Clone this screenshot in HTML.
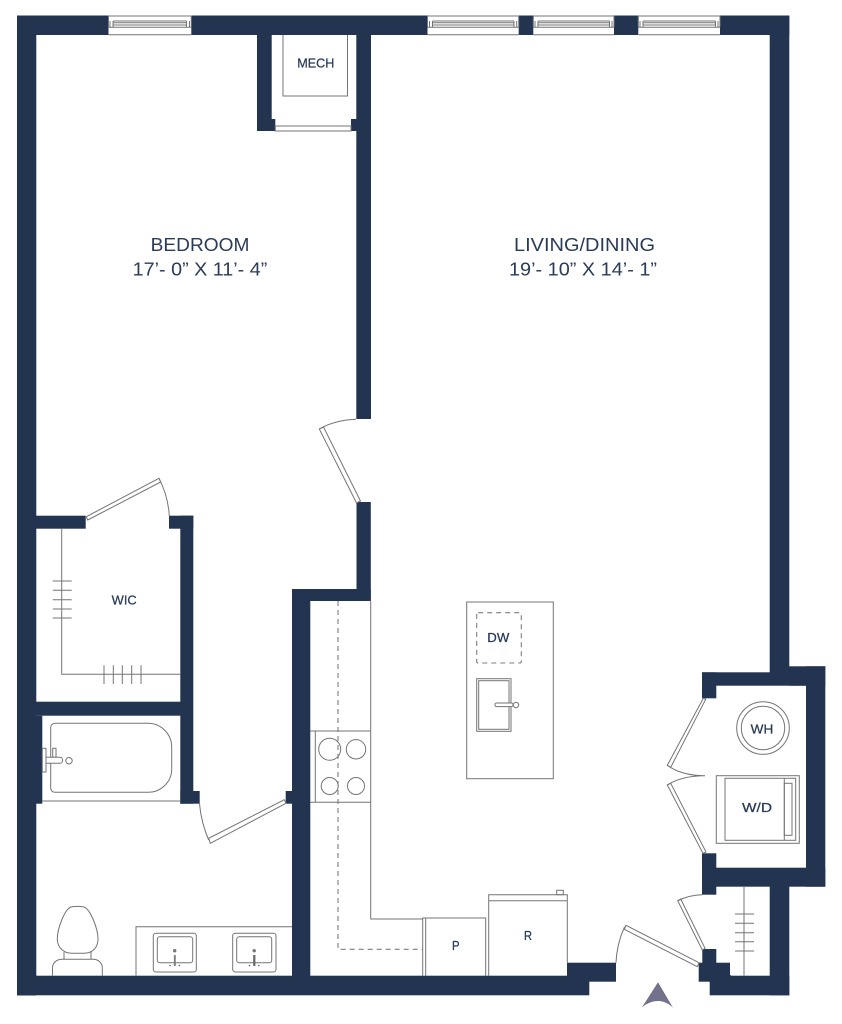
<!DOCTYPE html>
<html lang="en">
<head>
<meta charset="utf-8">
<title>Floor plan</title>
<style>
html,body{margin:0;padding:0;background:#fff;width:842px;height:1024px;overflow:hidden}
svg{display:block}
.w{fill:#233450}
.l{fill:none;stroke:#747474;stroke-width:1}
.p{fill:#fff;stroke:#747474;stroke-width:1}
.d{fill:none;stroke:#7f7f7f;stroke-width:1.1;stroke-dasharray:5 4}
text{font-family:"Liberation Sans",sans-serif;fill:#2a3b57;text-anchor:start}
.s{stroke:#2a3b57;stroke-width:.25}
</style>
</head>
<body>
<svg width="842" height="1024" viewBox="0 0 842 1024" xmlns="http://www.w3.org/2000/svg">
<!-- walls -->
<g class="w">
<rect x="17" y="15.5" width="772.3" height="19.5"/>
<rect x="17" y="15.5" width="19.3" height="980"/>
<rect x="36" y="715.7" width="6.3" height="88"/>
<rect x="36" y="515.7" width="49.7" height="13"/>
<rect x="169" y="515.7" width="24.3" height="13"/>
<rect x="180.3" y="515.7" width="13" height="288"/>
<rect x="36" y="701.7" width="145" height="14"/>
<rect x="180.3" y="791" width="19.4" height="12.7"/>
<rect x="257" y="35" width="14.7" height="96"/>
<rect x="257" y="119" width="18.3" height="12"/>
<rect x="356.3" y="35" width="14.7" height="384"/>
<rect x="351" y="119" width="6" height="12"/>
<rect x="356.5" y="502" width="14.3" height="99"/>
<rect x="292" y="589" width="78.8" height="12"/>
<rect x="292" y="589" width="18.3" height="406"/>
<rect x="285.7" y="791" width="7" height="12.7"/>
<rect x="17" y="975.7" width="572.3" height="19.6"/>
<rect x="567" y="962.7" width="49" height="19"/>
<rect x="769.7" y="15.5" width="19.6" height="660"/>
<rect x="702" y="672.3" width="105" height="13.4"/>
<rect x="789" y="666.3" width="36.3" height="19.4"/>
<rect x="806" y="666.3" width="19.3" height="220.4"/>
<rect x="702" y="672.3" width="14.3" height="26"/>
<rect x="702" y="867.7" width="123.3" height="19"/>
<rect x="702" y="853.3" width="14.3" height="41.4"/>
<rect x="769.7" y="886" width="19.6" height="109.3"/>
<rect x="709.7" y="975.7" width="79.6" height="19.6"/>
<rect x="702.3" y="949" width="14" height="14"/>
<rect x="698.7" y="962.7" width="31.3" height="19"/>
<rect x="709.7" y="975" width="21" height="7"/>
</g>

<!-- top windows -->
<g>
<rect x="108.5" y="15.5" width="82.8" height="19.5" fill="#fff"/>
<path class="l" d="M108.5 16H191.3M108.5 34.7H191.3M108.5 16V27.3M191.3 16V27.3M108.5 27.3H191.3M113 21H186.5M113 22.7H186.5M113 25H186.5M113 21V27M186.5 21V27M110 21V27M189.5 21V27"/>
<rect x="427.5" y="15.5" width="91.2" height="19.5" fill="#fff"/>
<path class="l" d="M427.5 16H518.7M427.5 34.7H518.7M427.5 16V27.3M518.7 16V27.3M427.5 27.3H518.7M432.5 21H514M432.5 22.7H514M432.5 25H514M432.5 21V27M514 21V27M429.5 21V27M516.7 21V27"/>
<rect x="533.3" y="15.5" width="80.7" height="19.5" fill="#fff"/>
<path class="l" d="M533.3 16H614M533.3 34.7H614M533.3 16V27.3M614 16V27.3M533.3 27.3H614M538 21H609.5M538 22.7H609.5M538 25H609.5M538 21V27M609.5 21V27M535 21V27M612 21V27"/>
<rect x="638.3" y="15.5" width="81.7" height="19.5" fill="#fff"/>
<path class="l" d="M638.3 16H720M638.3 34.7H720M638.3 16V27.3M720 16V27.3M638.3 27.3H720M643 21H715.5M643 22.7H715.5M643 25H715.5M643 21V27M715.5 21V27M640 21V27M718 21V27"/>
</g>

<!-- mech -->
<path class="l" d="M283 35V96H347.5V35"/>
<rect class="p" x="275.3" y="126" width="75.7" height="5"/>

<!-- bedroom/living door -->
<path class="l" d="M356 419.3C343 419.8 330 423 319.3 429"/>
<polygon class="p" points="319.3,429 323.5,427 360.5,501 356.5,503"/>

<!-- WIC door -->
<polygon class="p" points="86.3,516.7 159,478.3 160.7,482 87.7,520"/>
<path class="l" d="M159 478.3C164.5 489 168.5 502 169.3 516"/>
<!-- WIC shelving -->
<path class="l" d="M61.7 528.7V674.3H180.3"/>
<path class="l" d="M52.7 581H71.7M52.7 590.3H71.7M52.7 599.7H71.7M52.7 609H71.7M52.7 618H71.7"/>
<path class="l" d="M104 665.3V684M113.3 665.3V684M122.3 665.3V684M131.7 665.3V684M141 665.3V684"/>

<!-- bath -->
<path class="l" d="M42 801H180.3"/>
<path class="l" d="M55 723.3H148C161 723.3 171.7 734 171.7 747V769C171.7 782 161 792.3 148 792.3H55C52.5 792.3 50.7 790.5 50.7 788V727.5C50.7 725 52.5 723.3 55 723.3Z"/>
<rect class="p" x="42.3" y="748.3" width="3.7" height="23.7"/>
<rect class="p" x="52.7" y="748.3" width="3.3" height="9"/>
<path class="p" d="M46 757.3H60C61.6 757.3 62.6 758.6 62.6 760.3C62.6 762 61.6 763.3 60 763.3H46Z"/>
<circle class="p" cx="69" cy="760.7" r="3.2"/>

<!-- bath door -->
<polygon class="p" points="284.3,799.7 286,803.3 210.3,843.3 208.7,838.3"/>
<path class="l" d="M199.5 803.7C200.5 815 203.5 828 208.7 840"/>

<!-- vanity -->
<path class="l" d="M136 975.7V926.7H292"/>
<g>
<rect class="l" x="153.3" y="933.3" width="43" height="38.7" rx="2.5"/>
<rect class="l" x="157.3" y="936.7" width="35.4" height="26" rx="2.5"/>
<circle cx="174.7" cy="950.7" r="1.7" fill="#777"/>
<rect x="173.9" y="955" width="1.8" height="11" fill="#777"/>
<circle cx="170" cy="965.5" r=".8" fill="#666"/>
<circle cx="179.3" cy="965.5" r=".8" fill="#666"/>
</g>
<g>
<rect class="l" x="232.7" y="933.3" width="43.3" height="38.7" rx="2.5"/>
<rect class="l" x="236.7" y="936.7" width="35" height="26" rx="2.5"/>
<circle cx="254.2" cy="950.7" r="1.7" fill="#777"/>
<rect x="253.2" y="955" width="2.2" height="11" fill="#666"/>
<circle cx="249.5" cy="965.5" r=".8" fill="#666"/>
<circle cx="258.8" cy="965.5" r=".8" fill="#666"/>
</g>

<!-- toilet -->
<path class="l" d="M71 907C65 909 57.3 928 57.3 939C57.3 948 64 953.3 72 953.3H84C92 953.3 98 948 98 939C98 928 90 909 84 907C80 906.3 75 906.3 71 907Z"/>
<path class="l" d="M64 952V959.5M91 952V959.5"/>
<path class="l" d="M52.5 975.7V968C52.5 963 56.5 959.3 62 959.3H93C98.5 959.3 102.3 963 102.3 968V975.7"/>

<!-- kitchen -->
<path class="l" d="M370.7 601V919H422.7"/>
<path class="d" d="M338 601V949.3H422.7"/>
<path class="l" d="M310.3 731H370.7M310.3 802.3H370.7M315.3 731V802.3"/>
<circle class="l" cx="329.7" cy="749.3" r="11"/>
<circle class="l" cx="356" cy="749.3" r="9.7"/>
<circle class="l" cx="329.7" cy="786" r="8.5"/>
<circle class="l" cx="356" cy="786" r="8.5"/>

<!-- island -->
<rect class="l" x="466.7" y="602" width="86.6" height="176.7"/>
<rect class="d" x="476.7" y="612.7" width="44.6" height="50.3" rx="1.5"/>
<rect class="l" x="476.7" y="678.7" width="34.3" height="52.6"/>
<rect class="l" x="478.7" y="680.7" width="30.3" height="48.6"/>
<rect class="p" x="495" y="703" width="18" height="3.6" rx="1.6"/>
<circle class="p" cx="516" cy="705" r="2.7"/>

<!-- P & R -->
<path class="l" d="M422.7 975.7V918H485.7V975.7M425.7 918V975.7"/>
<path class="l" d="M488.7 975.7V894.7H567.3V962.7M488.7 900.7H567.3"/>
<rect class="l" x="556.7" y="890.3" width="6.6" height="4.4"/>

<!-- laundry -->
<polygon class="p" points="703.3,698.3 705.7,699.3 670.7,767.3 667.3,765.3"/>
<polygon class="p" points="667.3,785 670.7,783.3 706,852 703,853.3"/>
<path class="l" d="M667.3 765.3C678 773 692 775.7 705 775.7C692 775.7 678 778 667.3 785"/>
<circle class="l" cx="763" cy="728" r="26.3"/>
<circle class="l" cx="763" cy="728" r="21.7"/>
<rect class="l" x="716.3" y="775.7" width="83" height="67.6"/>
<rect class="l" x="725" y="778.3" width="70.7" height="62"/>
<path class="l" d="M784.3 778.3V840.3"/>
<rect class="l" x="784.3" y="783.3" width="7.7" height="52"/>

<!-- entry door -->
<polygon class="p" points="626,925.3 699,962.7 697.3,966.7 624.3,929.3"/>
<path class="l" d="M624.5 927C619.5 938 616.5 950 616 962.7"/>

<!-- closet door -->
<polygon class="p" points="677.7,900.7 680.7,899 705,948.3 702.3,950"/>
<path class="l" d="M678 900.7C685 897 694 894.9 702.3 894.7"/>
<path class="l" d="M744 887V975.7"/>
<path class="l" d="M735 914H754M735 923.3H754M735 932.7H754M735 941.7H754M735 951H754"/>

<!-- north arrow -->
<path d="M658 982.3L673 1007.7C668 1003 663 1001 658 1001C653 1001 647 1003 641.7 1007.7Z" fill="#72728c"/>

<!-- labels -->
<text x="150.7" y="251" font-size="18" textLength="98.7" lengthAdjust="spacingAndGlyphs">BEDROOM</text>
<text x="132.7" y="275.7" font-size="18" textLength="134.6" lengthAdjust="spacingAndGlyphs">17’- 0” X 11’- 4”</text>
<text x="514" y="251" font-size="18" textLength="141" lengthAdjust="spacingAndGlyphs">LIVING/DINING</text>
<text x="509" y="275.7" font-size="18" textLength="148" lengthAdjust="spacingAndGlyphs">19’- 10” X 14’- 1”</text>
<text class="s" x="297.3" y="67.3" font-size="12.5" textLength="37" lengthAdjust="spacingAndGlyphs">MECH</text>
<text class="s" x="111.7" y="604.3" font-size="12.5" textLength="25" lengthAdjust="spacingAndGlyphs">WIC</text>
<text class="s" x="487.3" y="642" font-size="12.5" textLength="22" lengthAdjust="spacingAndGlyphs">DW</text>
<text class="s" x="750.7" y="733.3" font-size="12.5" textLength="22.6" lengthAdjust="spacingAndGlyphs">WH</text>
<text class="s" x="742" y="812" font-size="12.5" textLength="30" lengthAdjust="spacingAndGlyphs">W/D</text>
<text class="s" x="452" y="950" font-size="12.5" textLength="7.5" lengthAdjust="spacingAndGlyphs">P</text>
<text class="s" x="524" y="940" font-size="12.5" textLength="8" lengthAdjust="spacingAndGlyphs">R</text>
</svg>
</body>
</html>
